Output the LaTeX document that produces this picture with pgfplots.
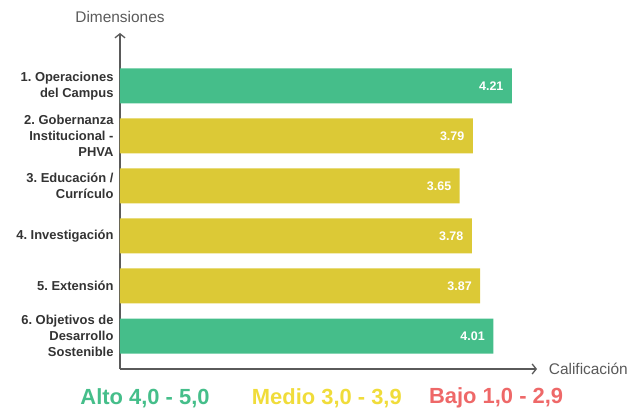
\documentclass[border=0pt]{standalone}
\usepackage{pgfplots}
\pgfplotsset{compat=1.18}
\usepackage{fontspec}
\setmainfont{Liberation Sans}
\usetikzlibrary{arrows.meta}
\definecolor{barGreen}{HTML}{45BE8A}
\definecolor{barYellow}{HTML}{DCC936}
\definecolor{legYellow}{HTML}{F0DC3A}
\definecolor{legRed}{HTML}{EE6868}
\definecolor{axisgray}{HTML}{5A5A5A}
\definecolor{labelgray}{HTML}{333333}
\frenchspacing
\begin{document}
\begin{tikzpicture}
\useasboundingbox (-120bp,-42bp) rectangle (521bp,369bp);
\begin{axis}[
  at={(0,0)}, anchor=south west,
  scale only axis, width=417bp, height=336bp,
  xbar, bar width=35bp,
  xmin=0, xmax=4.48, ymin=0.34, ymax=7.06,
  axis lines*=left,
  axis line style={draw=axisgray, line width=1.3bp, -{Straight Barb[length=4bp,width=10bp,line width=1.3bp]}},
  xtick=\empty,
  ytick={1,2,3,4,5,6},
  major tick length=0pt,
  yticklabels={
    {6. Objetivos de\\Desarrollo\\Sostenible},
    {5. Extensión},
    {4. Investigación},
    {3. Educación /\\Currículo},
    {2. Gobernanza\\Institucional -\\PHVA},
    {1. Operaciones\\del Campus}},
  yticklabel style={align=right, text=labelgray, font=\bfseries\fontsize{13}{16}\selectfont, xshift=-3bp},
  clip=false,
]
\addplot[fill=barGreen, draw=none, bar shift=0pt, point meta=explicit symbolic,
  nodes near coords, nodes near coords style={anchor=east, text=white, font=\bfseries\fontsize{12.5}{14}\selectfont, xshift=-5bp}]
  coordinates {(4.21,6) [4.21] (4.01,1) [4.01]};
\addplot[fill=barYellow, draw=none, bar shift=0pt, point meta=explicit symbolic,
  nodes near coords, nodes near coords style={anchor=east, text=white, font=\bfseries\fontsize{12.5}{14}\selectfont, xshift=-5bp}]
  coordinates {(3.79,5) [3.79] (3.65,4) [3.65] (3.78,3) [3.78] (3.87,2) [3.87]};
\node[anchor=west, text=axisgray, font=\fontsize{15.5}{18}\selectfont] at (axis description cs:1.02,0) {Calificación};
\node[text=axisgray, font=\fontsize{15.5}{18}\selectfont] at (axis description cs:0,1.048) {Dimensiones};
\node[text=barGreen, font=\bfseries\fontsize{22}{24}\selectfont] at (axis description cs:0.060,-0.086) {Alto 4,0 - 5,0};
\node[text=legYellow, font=\bfseries\fontsize{22}{24}\selectfont] at (axis description cs:0.496,-0.086) {Medio 3,0 - 3,9};
\node[text=legRed, font=\bfseries\fontsize{22}{24}\selectfont] at (axis description cs:0.902,-0.086) {Bajo 1,0 - 2,9};
\end{axis}
\end{tikzpicture}
\end{document}
